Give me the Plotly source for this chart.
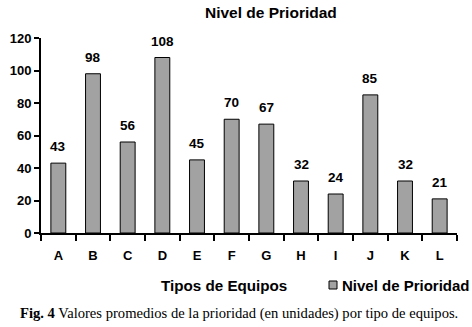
import plotly.graph_objects as go

categories = ["A", "B", "C", "D", "E", "F", "G", "H", "I", "J", "K", "L"]
values = [43, 98, 56, 108, 45, 70, 67, 32, 24, 85, 32, 21]
y_ticks = [0, 20, 40, 60, 80, 100, 120]
series_name = "Nivel de Prioridad"
title_text = "Nivel de Prioridad"
x_title = "Tipos de Equipos"
caption = "<b>Fig. 4</b> Valores promedios de la prioridad (en unidades) por tipo de equipos."

FONT = "Arial, Liberation Sans, sans-serif"
BOLD = dict(family=FONT, size=13, color="#000", weight="bold")
BAR_COLOR = "#a2a2a2"

PW, PH, L, T = 416, 195, 41, 38


def px(x):
    return (x - L) / PW


def py(y):
    return (T + PH - y) / PH


fig = go.Figure()
fig.add_trace(go.Bar(
    x=categories, y=values, name=series_name,
    marker=dict(color=BAR_COLOR, line=dict(color="#000000", width=1)),
    width=0.43, showlegend=False,
))

for c, v in zip(categories, values):
    fig.add_annotation(x=c, y=v, text=f"<b>{v}</b>", showarrow=False,
                       yanchor="bottom", yshift=7,
                       font=dict(family=FONT, size=13.5, color="#000"))

fig.add_annotation(xref="paper", yref="paper", x=px(271), y=py(12),
                   text=f"<b>{title_text}</b>", showarrow=False,
                   xanchor="center", yanchor="middle",
                   font=dict(family=FONT, size=15.5, color="#000"))
fig.add_annotation(xref="paper", yref="paper", x=px(224), y=py(285),
                   text=f"<b>{x_title}</b>", showarrow=False,
                   xanchor="center", yanchor="middle",
                   font=dict(family=FONT, size=15.2, color="#000"))
fig.add_annotation(xref="paper", yref="paper", x=px(18), y=py(313),
                   text=caption, showarrow=False,
                   xanchor="left", yanchor="middle",
                   font=dict(family="Liberation Serif, Times New Roman, serif", size=14.6, color="#000"))

# legend (swatch + label)
fig.add_shape(type="rect", xref="paper", yref="paper",
              x0=px(329), x1=px(337), y0=py(289), y1=py(281),
              fillcolor=BAR_COLOR, line=dict(color="#000", width=1))
fig.add_annotation(xref="paper", yref="paper", x=px(340), y=py(285),
                   text=f"<b>{series_name}</b>", showarrow=False,
                   xanchor="left", yanchor="middle",
                   font=dict(family=FONT, size=15, color="#000"))

fig.update_layout(
    width=472, height=327,
    margin=dict(l=41, r=15, t=38, b=94, autoexpand=False),
    paper_bgcolor="white", plot_bgcolor="white",
    font=dict(family=FONT, size=13, color="#000"),
    bargap=0.57,
    showlegend=False,
    xaxis=dict(type="category", showline=True, linecolor="#000", linewidth=2,
               ticks="outside", tickson="boundaries", ticklen=6, tickwidth=2, tickcolor="#000",
               ticklabelstandoff=9,
               showgrid=False, tickfont=BOLD, range=[-0.5, 11.5]),
    yaxis=dict(range=[0, 120], tickvals=y_ticks, showline=True, linecolor="#000", linewidth=2,
               ticks="outside", ticklen=5, tickwidth=2, tickcolor="#000",
               showgrid=False, zeroline=False, tickfont=BOLD),
)

fig.write_html("out.html", config={"displayModeBar": False, "staticPlot": True},
               post_script="document.body.style.margin='0';document.body.style.overflow='hidden';")
